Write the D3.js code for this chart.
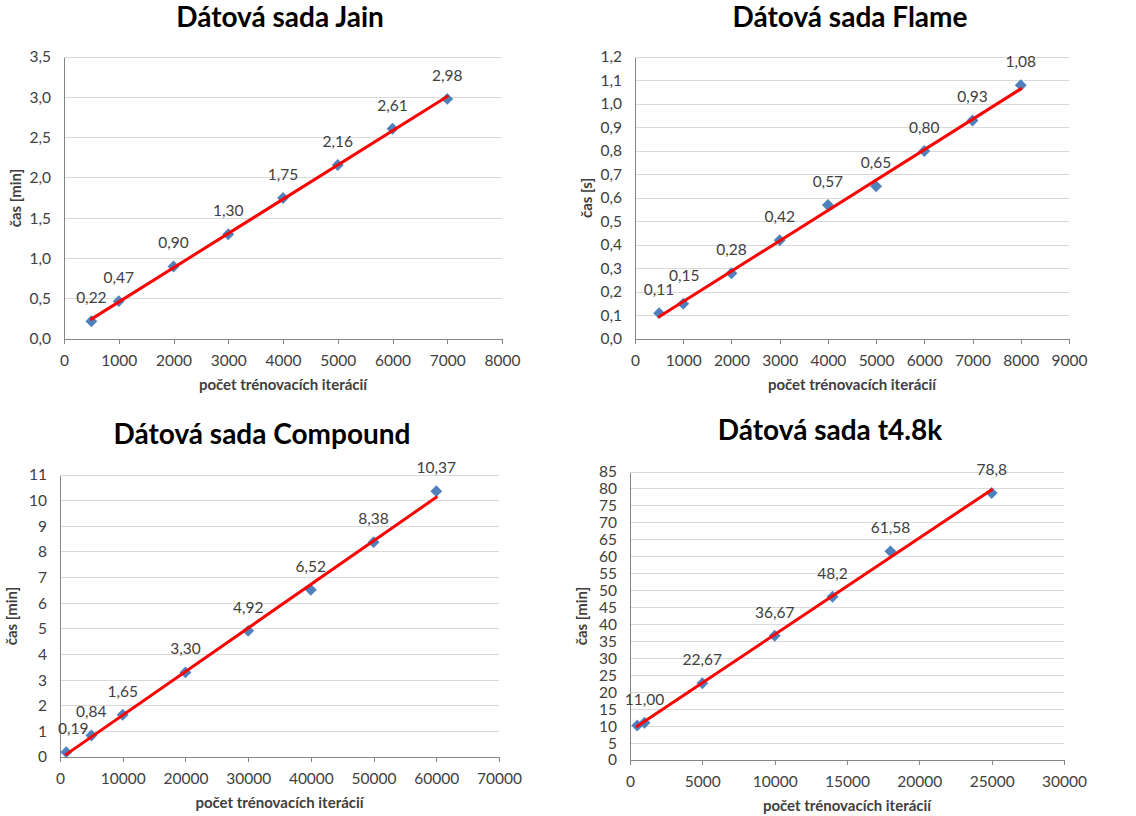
<!DOCTYPE html>
<html>
<head>
<meta charset="utf-8">
<script src="https://cdn.jsdelivr.net/npm/d3@7"></script>
<style>
  html, body { margin: 0; padding: 0; background: #fff; }
  svg { display: block; font-family: Lato, "Open Sans", sans-serif; }
</style>
</head>
<body>
<svg id="chart" width="1136" height="816"></svg>
<script>
// Training time versus number of training iterations, four datasets
const jainIter = [500, 1000, 2000, 3000, 4000, 5000, 6000, 7000];
const jainTime = [0.22, 0.47, 0.90, 1.30, 1.75, 2.16, 2.61, 2.98];
const jainXTicks = [0, 1000, 2000, 3000, 4000, 5000, 6000, 7000, 8000];
const jainYTicks = [0, 0.5, 1.0, 1.5, 2.0, 2.5, 3.0, 3.5];

const flameIter = [500, 1000, 2000, 3000, 4000, 5000, 6000, 7000, 8000];
const flameTime = [0.11, 0.15, 0.28, 0.42, 0.57, 0.65, 0.80, 0.93, 1.08];
const flameXTicks = [0, 1000, 2000, 3000, 4000, 5000, 6000, 7000, 8000, 9000];
const flameYTicks = [0, 0.1, 0.2, 0.3, 0.4, 0.5, 0.6, 0.7, 0.8, 0.9, 1.0, 1.1, 1.2];

const compoundIter = [1000, 5000, 10000, 20000, 30000, 40000, 50000, 60000];
const compoundTime = [0.19, 0.84, 1.65, 3.30, 4.92, 6.52, 8.38, 10.37];
const compoundXTicks = [0, 10000, 20000, 30000, 40000, 50000, 60000, 70000];
const compoundYTicks = [0, 1, 2, 3, 4, 5, 6, 7, 8, 9, 10, 11];

const t48kIter = [500, 1000, 5000, 10000, 14000, 18000, 25000];
const t48kTime = [10.2, 11.00, 22.67, 36.67, 48.2, 61.58, 78.8];
const t48kLabels = [null, "11,00", "22,67", "36,67", "48,2", "61,58", "78,8"];
const t48kXTicks = [0, 5000, 10000, 15000, 20000, 25000, 30000];
const t48kYTicks = [0, 5, 10, 15, 20, 25, 30, 35, 40, 45, 50, 55, 60, 65, 70, 75, 80, 85];

const comma = (fmt) => (v) => d3.format(fmt)(v).replace(".", ",");

const panels = [
  { title: "Dátová sada Jain", yTitle: "čas [min]", x: jainIter, y: jainTime,
    labels: jainTime.map(comma(".2f")), xTicks: jainXTicks, yTicks: jainYTicks, yFmt: comma(".1f"),
    nudge: {},
    box: { left: 64, right: 502, top: 57, bottom: 339, titleY: 20, titleX: 280 } },
  { title: "Dátová sada Flame", yTitle: "čas [s]", x: flameIter, y: flameTime,
    labels: flameTime.map(comma(".2f")), xTicks: flameXTicks, yTicks: flameYTicks, yFmt: comma(".1f"),
    nudge: { 1: [1, -5] },
    box: { left: 635, right: 1069, top: 57, bottom: 339, titleY: 20, titleX: 850 } },
  { title: "Dátová sada Compound", yTitle: "čas [min]", x: compoundIter, y: compoundTime,
    labels: compoundTime.map(comma(".2f")), xTicks: compoundXTicks, yTicks: compoundYTicks, yFmt: d3.format("d"),
    nudge: { 0: [7, 0] },
    box: { left: 60, right: 499, top: 475, bottom: 757, titleY: 437, titleX: 262 } },
  { title: "Dátová sada t4.8k", yTitle: "čas [min]", x: t48kIter, y: t48kTime,
    labels: t48kLabels, xTicks: t48kXTicks, yTicks: t48kYTicks, yFmt: d3.format("d"),
    nudge: {},
    box: { left: 630, right: 1064, top: 472, bottom: 760, titleY: 433, titleX: 830 } }
];

const svg = d3.select("#chart");

function drawPanel(p) {
  const b = p.box;
  const g = svg.append("g");
  const xs = d3.scaleLinear().domain([p.xTicks[0], p.xTicks[p.xTicks.length - 1]]).range([b.left, b.right]);
  const ys = d3.scaleLinear().domain([p.yTicks[0], p.yTicks[p.yTicks.length - 1]]).range([b.bottom, b.top]);

  // horizontal gridlines
  g.append("g").selectAll("line").data(p.yTicks.slice(1)).join("line")
    .attr("x1", b.left).attr("x2", b.right)
    .attr("y1", d => ys(d)).attr("y2", d => ys(d))
    .attr("stroke", "#d9d9d9").attr("stroke-width", 1).attr("shape-rendering", "crispEdges");

  // y axis
  const yAxis = g.append("g").attr("transform", `translate(${b.left},0)`)
    .call(d3.axisLeft(ys).tickValues(p.yTicks).tickFormat(p.yFmt).tickSize(0).tickPadding(13));
  yAxis.select(".domain").attr("stroke", "#868686").attr("shape-rendering", "crispEdges");
  yAxis.selectAll("text").attr("font-size", 15.5).attr("fill", "#404040").attr("font-family", "Lato, sans-serif");

  // x axis
  const xAxis = g.append("g").attr("transform", `translate(0,${b.bottom})`)
    .call(d3.axisBottom(xs).tickValues(p.xTicks).tickFormat(d3.format("d")).tickSize(5).tickPadding(11));
  xAxis.select(".domain").attr("stroke", "#868686").attr("shape-rendering", "crispEdges");
  xAxis.selectAll("line").attr("stroke", "#868686").attr("shape-rendering", "crispEdges");
  xAxis.selectAll("text").attr("font-size", 15.5).attr("fill", "#404040").attr("font-family", "Lato, sans-serif");

  // titles
  g.append("text").attr("x", b.titleX).attr("y", b.titleY).attr("text-anchor", "middle")
    .attr("dominant-baseline", "middle").attr("font-size", 28).attr("font-weight", "bold")
    .attr("fill", "#000").text(p.title);
  g.append("text").attr("x", (b.left + b.right) / 2).attr("y", b.bottom + 47)
    .attr("text-anchor", "middle").attr("dominant-baseline", "middle")
    .attr("font-size", 15).attr("font-weight", "bold").attr("fill", "#404040")
    .text("počet trénovacích iterácií");
  g.append("text").attr("transform", `translate(${b.left - 47},${(b.top + b.bottom) / 2}) rotate(-90)`)
    .attr("text-anchor", "middle").attr("dominant-baseline", "middle")
    .attr("font-size", 15).attr("font-weight", "bold").attr("fill", "#404040")
    .text(p.yTitle);

  const pts = p.x.map((xv, i) => ({ i, x: xv, y: p.y[i], label: p.labels[i] }));

  // diamond markers
  g.append("g").selectAll("path").data(pts).join("path")
    .attr("d", d3.symbol(d3.symbolDiamond2, 90))
    .attr("transform", d => `translate(${xs(d.x)},${ys(d.y)})`)
    .attr("fill", "#4f81bd");

  // least-squares trend line over the measured range
  const mx = d3.mean(pts, d => d.x), my = d3.mean(pts, d => d.y);
  const slope = d3.sum(pts, d => (d.x - mx) * (d.y - my)) / d3.sum(pts, d => (d.x - mx) ** 2);
  const icpt = my - slope * mx;
  const x0 = d3.min(p.x), x1 = d3.max(p.x);
  g.append("line")
    .attr("x1", xs(x0)).attr("y1", ys(icpt + slope * x0))
    .attr("x2", xs(x1)).attr("y2", ys(icpt + slope * x1))
    .attr("stroke", "#ff0000").attr("stroke-width", 3).attr("stroke-linecap", "round");

  // value labels, a few nudged apart where neighbours crowd
  const off = d => p.nudge[d.i] || [0, 0];
  g.append("g").selectAll("text").data(pts.filter(d => d.label)).join("text")
    .attr("x", d => xs(d.x) + off(d)[0]).attr("y", d => ys(d.y) - 22 + off(d)[1])
    .attr("text-anchor", "middle").attr("dominant-baseline", "middle")
    .attr("font-size", 15.5).attr("fill", "#404040")
    .text(d => d.label);
}

panels.forEach(drawPanel);
</script>
</body>
</html>
